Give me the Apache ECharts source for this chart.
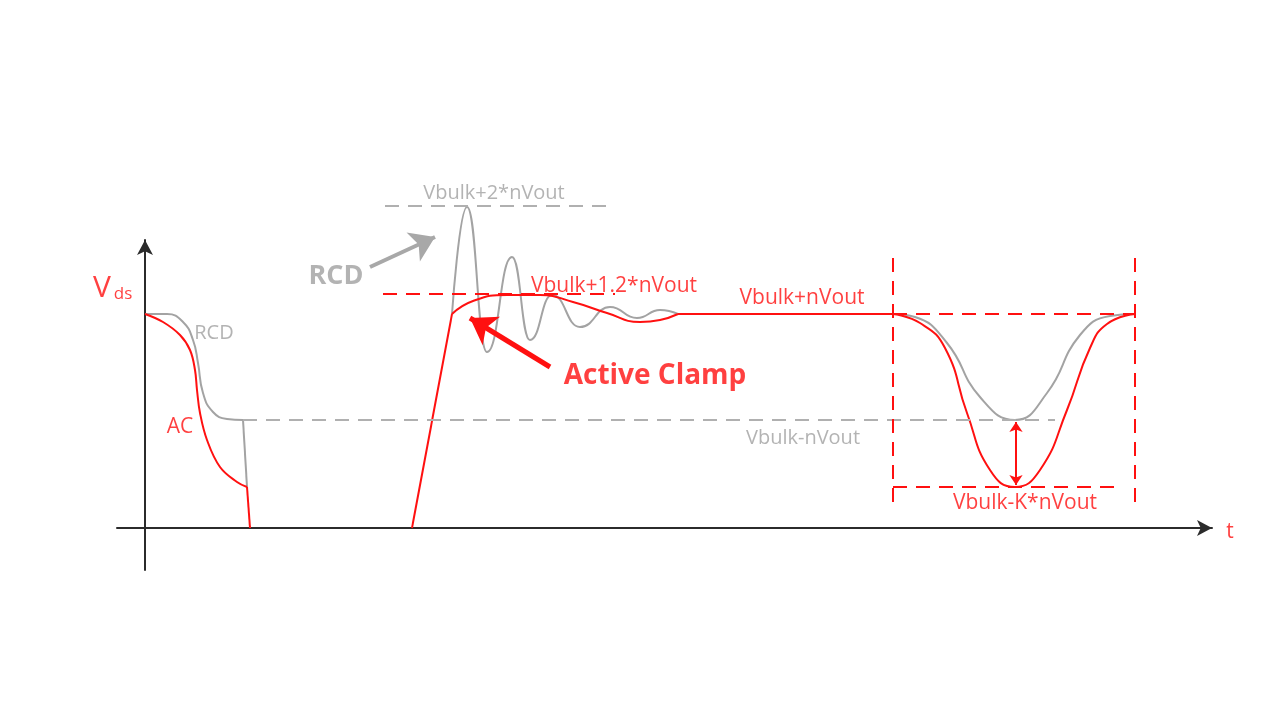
<!DOCTYPE html>
<html>
<head>
<meta charset="utf-8">
<title>Vds waveform RCD vs Active Clamp</title>
<script src="https://cdn.jsdelivr.net/npm/echarts@6/dist/echarts.min.js"></script>
<style>
html, body { margin: 0; padding: 0; background: #fff; }
#chart { width: 1280px; height: 721px; }
</style>
</head>
<body>
<div id="chart"></div>
<script>
// waveform points [t, Vds], arbitrary units
// turn-off edge
const rcdFall = [[0, 214], [22, 214], [38, 206], [48, 188], [53, 165], [58, 135], [68, 116], [82, 109], [98, 108]]
const rcdDrop = [[98, 108], [102, 41]]
const acFall = [[0, 214], [18, 206], [35, 193], [45, 178], [50, 158], [52, 138], [55, 115], [62, 88], [75, 61], [92, 46], [102, 41]]
const acDrop = [[102, 41], [105, 0]]
// turn-on edge
const ramp = [[267, 0], [307, 214]]
const acClamp = [[307, 214], [328, 227], [362, 233], [395, 233], [428, 226], [462, 215], [495, 206], [515, 208], [533, 214]]
const acFlat = [[533, 214], [748, 214]]
const acDip = [[748, 214], [775, 205], [800, 180], [822, 115], [845, 58], [870, 41], [895, 58], [922, 118], [945, 180], [962, 204], [990, 214]]
const rcdRing = [[307, 214], [322, 321], [342, 176], [367, 271], [385, 188], [407, 233], [435, 201], [465, 221], [492, 210], [515, 218], [533, 214]]
const rcdDip = [[748, 214], [770, 211], [802, 185], [835, 131], [870, 108], [902, 135], [935, 193], [965, 212], [990, 214]]

// dashed reference levels
const grayDashes = [
  [[240, 322], [470, 322]],
  [[98, 108], [910, 108]]
]
const redDashes = [
  [[238, 234], [470, 234]],
  [[748, 214], [990, 214]],
  [[748, 270], [748, 23]],
  [[990, 270], [990, 23]],
  [[748, 41], [970, 41]]
]

// pointer arrows [from, to]
const rcdPointer = [[225, 261], [290, 291]]
const acPointer = [[405, 161], [325, 210]]
const kSpan = [[871, 106], [871, 43]]

// text annotations [text, t, V]
const grayNotes = [
  ['RCD', 69, 195],
  ['Vbulk+2*nVout', 349, 335],
  ['Vbulk-nVout', 658, 90]
]
const redNotes = [
  ['AC', 35, 101],
  ['Vbulk+1.2*nVout', 469, 242],
  ['Vbulk+nVout', 657, 230],
  ['Vbulk-K*nVout', 880, 25],
  ['t', 1085, -4]
]
const bigNotes = [
  ['RCD', 191, 252],
  ['Active Clamp', 510, 152]
]

const RED = '#ff1010'
const GRAY = '#a3a3a3'
const FONT = 'Open Sans'

// 曲线
function curve(data, color, extra) {
  return Object.assign({
    type: 'line',
    data: data,
    symbol: 'none',
    silent: true,
    clip: false,
    z: color === RED ? 4 : 3,
    lineStyle: { color: color, width: 2 }
  }, extra || {})
}

function dashPairs(list, color) {
  return list.map(p => [
    { coord: p[0], lineStyle: { color: color, width: 2, type: [14, 9] } },
    { coord: p[1] }
  ])
}

function noteItems(list, color, size, weight) {
  return list.map(n => ({
    value: [n[1], n[2]],
    label: {
      show: true,
      position: 'inside',
      formatter: n[0],
      color: color,
      fontSize: size,
      fontWeight: weight,
      fontFamily: FONT
    }
  }))
}

const axisBase = {
  type: 'value',
  axisLine: {
    onZero: true,
    symbol: ['none', 'arrow'],
    symbolSize: [12, 15],
    lineStyle: { color: '#2b2b2b', width: 2 }
  },
  axisTick: { show: false },
  axisLabel: { show: false },
  splitLine: { show: false }
}
// same scale as the main grid but taller, for annotations above the axis end
const hiddenAxis = { type: 'value', show: false, splitLine: { show: false } }

const chart = echarts.init(document.getElementById('chart'))
chart.setOption({
  animation: false,
  backgroundColor: '#fff',
  grid: [
    { left: 117, right: 68, top: 240, bottom: 151 },
    { left: 117, right: 68, top: 100, bottom: 151 }
  ],
  xAxis: [
    Object.assign({}, axisBase, { min: -28, max: 1067 }),
    Object.assign({}, hiddenAxis, { gridIndex: 1, min: -28, max: 1067 })
  ],
  yAxis: [
    Object.assign({}, axisBase, { min: -42, max: 288 }),
    Object.assign({}, hiddenAxis, { gridIndex: 1, min: -42, max: 428 })
  ],
  series: [
    curve(rcdFall, GRAY, { smooth: 0.5 }),
    curve(rcdDrop, GRAY),
    curve(rcdRing, GRAY, { smooth: 0.5, smoothMonotone: 'x' }),
    curve(rcdDip, GRAY, { smooth: 0.5 }),
    curve(acFall, RED, { smooth: 0.4 }),
    curve(acDrop, RED),
    curve(ramp, RED),
    curve(acClamp, RED, { smooth: 0.5 }),
    curve(acDip, RED, { smooth: 0.5 }),
    curve(acFlat, RED, {
      xAxisIndex: 1,
      yAxisIndex: 1,
      markLine: {
        silent: true,
        symbol: 'none',
        label: { show: false },
        data: dashPairs(grayDashes, '#b0b0b0').concat(dashPairs(redDashes, RED)).concat([
          [
            { coord: rcdPointer[0], symbol: 'none', lineStyle: { color: '#a8a8a8', width: 4, type: 'solid' } },
            { coord: rcdPointer[1], symbol: 'arrow', symbolSize: 24 }
          ],
          [
            { coord: acPointer[0], symbol: 'none', lineStyle: { color: RED, width: 5, type: 'solid' } },
            { coord: acPointer[1], symbol: 'arrow', symbolSize: 25 }
          ],
          [
            { coord: kSpan[0], symbol: 'arrow', symbolSize: 10, lineStyle: { color: RED, width: 2, type: 'solid' } },
            { coord: kSpan[1], symbol: 'arrow', symbolSize: 10 }
          ]
        ])
      }
    }),
    {
      type: 'scatter',
      xAxisIndex: 1,
      yAxisIndex: 1,
      symbolSize: 0,
      silent: true,
      clip: false,
      z: 6,
      data: noteItems(grayNotes, '#a0a0a0', 20, 'normal')
        .concat(noteItems(redNotes, RED, 21, 'normal'))
        .concat(noteItems(bigNotes.slice(0, 1), '#a0a0a0', 27, 'bold'))
        .concat(noteItems(bigNotes.slice(1), RED, 28, 'bold'))
        .concat([
          { value: [-43, 240], label: { show: true, position: 'inside', formatter: 'V', color: RED, fontSize: 30, fontFamily: FONT } },
          { value: [-22, 234], label: { show: true, position: 'inside', formatter: 'ds', color: RED, fontSize: 17, fontFamily: FONT } }
        ])
    }
  ]
})
</script>
</body>
</html>
